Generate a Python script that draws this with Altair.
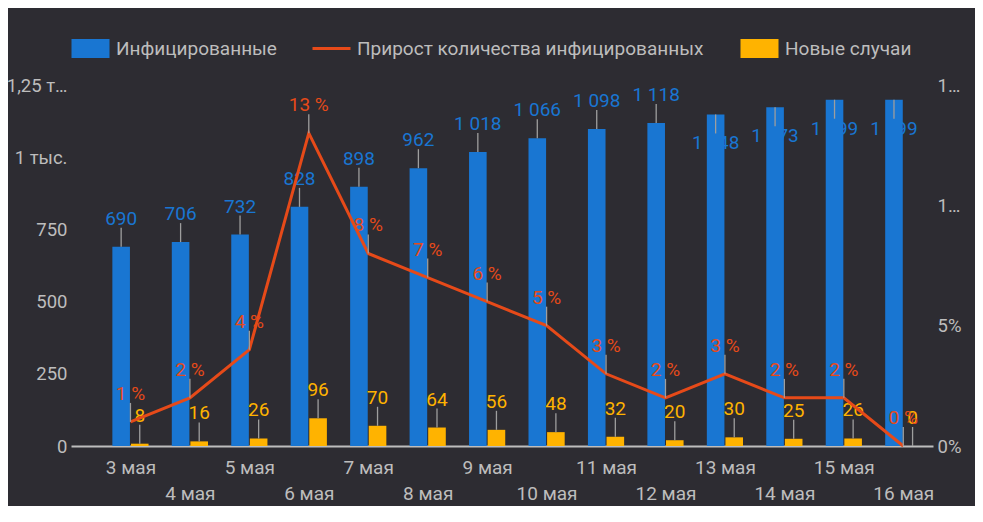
import altair as alt
import pandas as pd

dates = ['3 мая', '4 мая', '5 мая', '6 мая', '7 мая', '8 мая', '9 мая',
         '10 мая', '11 мая', '12 мая', '13 мая', '14 мая', '15 мая', '16 мая']
infected = [690, 706, 732, 828, 898, 962, 1018, 1066, 1098, 1118, 1148, 1173, 1199, 1199]
growth_pct = [1, 2, 4, 13, 8, 7, 6, 5, 3, 2, 3, 2, 2, 0]
new_cases = [8, 16, 26, 96, 70, 64, 56, 48, 32, 20, 30, 25, 26, 0]

S_INF = 'Инфицированные'
S_GROW = 'Прирост количества инфицированных'
S_NEW = 'Новые случаи'

BG = '#2d2c32'
BLUE = '#1976d2'
ORANGE = '#e64a19'
YELLOW = '#ffb300'
TXT = '#bdbdbd'
STEM = '#9e9e9e'
FONT = 'Roboto'
FS = 19
INSIDE = 1140  # labels drawn inside the bar above this value
OFF = 9.3
BW = 17.6
RECT = 'M-1,-0.5H1V0.5H-1Z'

df = pd.DataFrame({
    'i': list(range(len(dates))),
    'inf': infected,
    'grow': [g / 100 for g in growth_pct],
    'gp': growth_pct,
    'new': new_cases,
})

arr = "[" + ",".join("'" + d + "'" for d in dates) + "]"
x_expr = f"datum.value % 2 == 0 ? {arr}[datum.value] : ['', {arr}[datum.value]]"

xaxis = alt.Axis(values=list(range(len(dates))), labelExpr=x_expr, ticks=False, tickSize=0,
                 grid=False, domainColor='#bdbdbd', domainWidth=2, labelColor=TXT,
                 labelFont=FONT, labelFontSize=FS, labelBaseline='top', labelPadding=12,
                 labelLineHeight=26, labelOverlap=False, labelFlush=False, labelBound=False,
                 title=None)
X = alt.X('i:Q', scale=alt.Scale(domain=[-1, 13.5], nice=False, zero=False, padding=0),
          axis=xaxis)

laxis = alt.Axis(values=[0, 250, 500, 750, 1000, 1250],
                 labelExpr="datum.value == 1000 ? '1 тыс.' : datum.value == 1250 ? '1,25 т…' : datum.label",
                 ticks=False, tickSize=0, domain=False, grid=False, labelColor=TXT,
                 labelFont=FONT, labelFontSize=18.5, labelPadding=4, title=None)
lscale = alt.Scale(domain=[0, 1250], nice=False)

raxis = alt.Axis(orient='right', values=[0, 0.05, 0.1, 0.15],
                 labelExpr="datum.value < 0.01 ? '0%' : datum.value < 0.07 ? '5%' : '1…'",
                 ticks=False, tickSize=0, domain=False, grid=False, labelColor=TXT,
                 labelFont=FONT, labelFontSize=18.5, labelPadding=4, title=None)
rscale = alt.Scale(domain=[0, 0.15], nice=False)


def leg(x, shape):
    return alt.Legend(orient='none', legendX=x, legendY=-57, direction='horizontal', title=None,
                      symbolSize=1444, symbolType=shape, symbolStrokeWidth=3,
                      labelFontSize=FS, labelColor=TXT, labelFont=FONT, labelOffset=5,
                      labelLimit=0, padding=0)


fill_inf = alt.Fill('s:N', scale=alt.Scale(domain=[S_INF], range=[BLUE]), legend=leg(-1, RECT))
stroke_grow = alt.Stroke('s:N', scale=alt.Scale(domain=[S_GROW], range=[ORANGE]),
                         legend=leg(240, 'stroke'))
color_new = alt.Color('s:N', scale=alt.Scale(domain=[S_NEW], range=[YELLOW]),
                      legend=leg(668, RECT))

base = alt.Chart(df)

blue_bars = base.mark_bar(size=BW, xOffset=-OFF).encode(
    x=X, y=alt.Y('inf:Q', scale=lscale, axis=laxis, stack=None), fill=fill_inf
).transform_calculate(s=f"'{S_INF}'")

yellow_bars = base.mark_bar(size=BW, xOffset=OFF).encode(
    x=X, y=alt.Y('new:Q', scale=lscale, axis=laxis, stack=None), color=color_new
).transform_calculate(s=f"'{S_NEW}'")

blue_stem_out = base.mark_rule(xOffset=-OFF, y2Offset=-19, color=STEM, strokeWidth=1.3).encode(
    x=X, y=alt.Y('inf:Q', scale=lscale, axis=laxis), y2='inf:Q'
).transform_filter(f'datum.inf < {INSIDE}')
blue_stem_in = base.mark_rule(xOffset=-OFF, y2Offset=19, color=STEM, strokeWidth=1.3).encode(
    x=X, y=alt.Y('inf:Q', scale=lscale, axis=laxis), y2='inf:Q'
).transform_filter(f'datum.inf >= {INSIDE}')

blue_lbl_out = base.mark_text(dx=-OFF, dy=-22, baseline='alphabetic', fontSize=FS, font=FONT,
                              color=BLUE).encode(
    x=X, y=alt.Y('inf:Q', scale=lscale, axis=laxis), text='lbl:N'
).transform_calculate(lbl="replace(format(datum.inf, ','), ',', ' ')").transform_filter(
    f'datum.inf < {INSIDE}')
blue_lbl_in = base.mark_text(dx=-OFF, dy=35, baseline='alphabetic', fontSize=FS, font=FONT,
                             color=BLUE).encode(
    x=X, y=alt.Y('inf:Q', scale=lscale, axis=laxis), text='lbl:N'
).transform_calculate(lbl="replace(format(datum.inf, ','), ',', ' ')").transform_filter(
    f'datum.inf >= {INSIDE}')

yellow_stem = base.mark_rule(xOffset=OFF, y2Offset=-19, color=STEM, strokeWidth=1.3).encode(
    x=X, y=alt.Y('new:Q', scale=lscale, axis=laxis), y2='new:Q')
yellow_lbl = base.mark_text(dx=OFF, dy=-22, baseline='alphabetic', fontSize=FS, font=FONT,
                            color=YELLOW).encode(
    x=X, y=alt.Y('new:Q', scale=lscale, axis=laxis), text='new:Q')

line = base.mark_line(strokeWidth=3).encode(
    x=X, y=alt.Y('grow:Q', scale=rscale, axis=raxis), stroke=stroke_grow
).transform_calculate(s=f"'{S_GROW}'")
line_stem = base.mark_rule(y2Offset=-19, color=STEM, strokeWidth=1.3).encode(
    x=X, y=alt.Y('grow:Q', scale=rscale, axis=raxis), y2='grow:Q')
line_lbl = base.mark_text(dy=-22, baseline='alphabetic', fontSize=FS, font=FONT,
                          color=ORANGE).encode(
    x=X, y=alt.Y('grow:Q', scale=rscale, axis=raxis), text='glbl:N'
).transform_calculate(glbl="datum.gp + ' %'")

left = alt.layer(blue_bars, yellow_bars, blue_stem_out, blue_stem_in, yellow_stem,
                 blue_lbl_out, blue_lbl_in, yellow_lbl)
right = alt.layer(line, line_stem, line_lbl)

chart = alt.layer(left, right).resolve_scale(y='independent').properties(
    width=862, height=361,
    padding={'left': 63, 'top': 77, 'right': 42, 'bottom': 60},
    autosize=alt.AutoSizeParams(type='none'),
    background=BG,
).configure_view(stroke=None)

chart.save("out.html", embed_options={"renderer": "svg", "actions": False})
